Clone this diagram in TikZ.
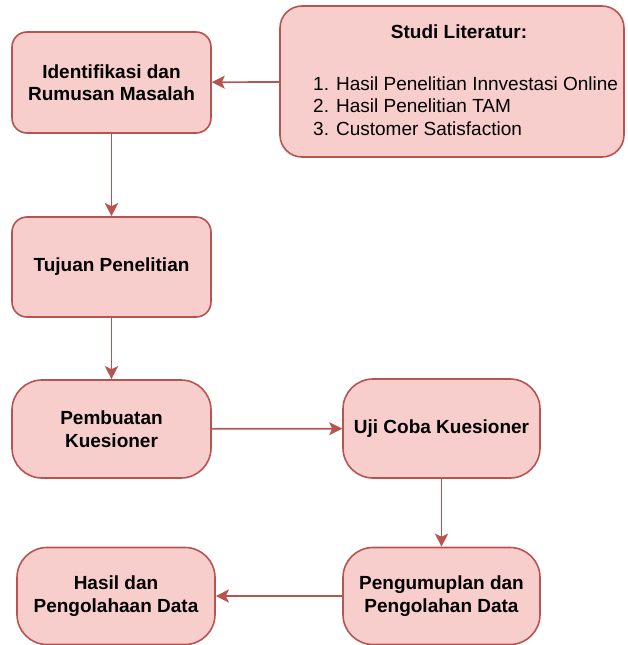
\documentclass[tikz,border=0pt]{standalone}
\usepackage{fontspec}
\setmainfont{Liberation Sans}
\usepackage{tikz}
\usetikzlibrary{positioning, arrows.meta}
\definecolor{boxfill}{HTML}{F8CECC}
\definecolor{boxline}{HTML}{B85450}

\begin{document}
\begin{tikzpicture}[x=1pt, y=-1pt, every node/.style={font=\fontsize{19}{22.5}\selectfont, inner sep=0pt},
    stepbox/.style={draw=boxline, fill=boxfill, line width=1.6pt, rounded corners=#1, align=center, font=\fontsize{19}{22.5}\selectfont\bfseries},
    stepbox/.default=15pt,
    flow/.style={draw=boxline, line width=1.7pt, -{Stealth[length=13pt, width=13pt, inset=3pt]}}]
    % 画布大小 (627 x 645)
    \useasboundingbox (0,0) rectangle (627,645);

    % 左上: 识别问题 与 文献研究
    \node[stepbox, minimum width=199pt, minimum height=101pt] (identifikasi) at (111.5,82.5) {Identifikasi dan\\Rumusan Masalah};
    \node[stepbox=22pt, minimum width=344pt, minimum height=151pt] (studi) at (452,81.5) {};
    \node[font=\fontsize{19}{22.5}\selectfont\bfseries] (studijudul) at (459,32) {Studi Literatur:};
    \node[anchor=west, align=left] (studidaftar) at (313,106) {1. Hasil Penelitian Innvestasi Online\\2. Hasil Penelitian TAM\\3. Customer Satisfaction};

    % 左列: 研究目的, 问卷制作
    \node[stepbox, minimum width=199pt, minimum height=100pt] (tujuan) at (111.5,267) {Tujuan Penelitian};
    \node[stepbox=30pt, minimum width=199pt, minimum height=98pt] (pembuatan) at (111.5,429) {Pembuatan\\Kuesioner};

    % 右列: 问卷试测, 数据收集
    \node[stepbox=30pt, minimum width=197pt, minimum height=99pt] (ujicoba) at (441.5,428.5) {Uji Coba Kuesioner};
    \node[stepbox=30pt, minimum width=197pt, minimum height=97pt] (pengumpulan) at (441.5,596) {Pengumuplan dan\\Pengolahan Data};

    % 左下: 结果
    \node[stepbox=30pt, minimum width=198pt, minimum height=97pt] (hasil) at (116,596) {Hasil dan\\Pengolahaan Data};

    % 箭头
    \draw[flow] (studi) -- (identifikasi);
    \draw[flow] (identifikasi) -- (tujuan);
    \draw[flow] (tujuan) -- (pembuatan);
    \draw[flow] (pembuatan) -- (ujicoba);
    \draw[flow] (ujicoba) -- (pengumpulan);
    \draw[flow] (pengumpulan) -- (hasil);
\end{tikzpicture}
\end{document}
